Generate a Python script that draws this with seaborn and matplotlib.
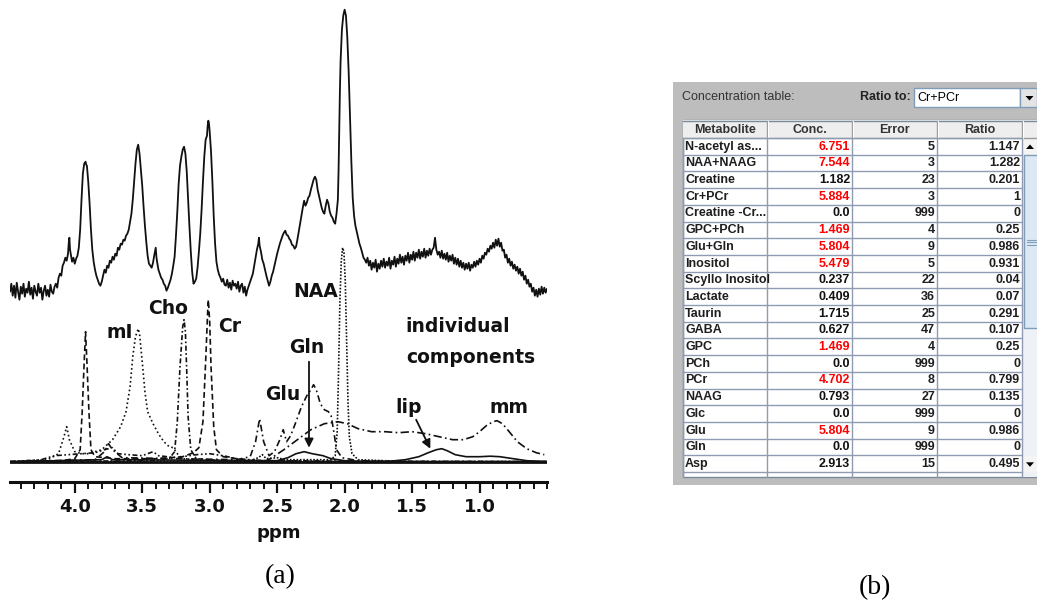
import matplotlib
matplotlib.use("Agg")
import matplotlib.pyplot as plt
import seaborn as sns
from matplotlib.patches import Rectangle, Polygon
from matplotlib.ticker import MultipleLocator

sns.set_theme(style="white")
plt.rcParams["font.family"] = ["DejaVu Sans"]

# ---------------------------------------------------------------
# (a) in-vivo spectrum (ppm, intensity in a.u.)
# ---------------------------------------------------------------
spectrum = [
    (4.48, 170), (4.47, 178), (4.46, 166), (4.45, 176), (4.44, 164), (4.43, 179), (4.42, 170),
    (4.41, 162), (4.40, 175), (4.39, 168), (4.38, 178), (4.37, 165), (4.36, 173), (4.35, 169),
    (4.34, 180), (4.33, 167), (4.32, 174), (4.31, 163), (4.30, 176), (4.29, 170), (4.28, 166),
    (4.27, 178), (4.26, 169), (4.25, 174), (4.24, 162), (4.23, 171), (4.22, 176), (4.21, 166),
    (4.20, 172), (4.19, 165), (4.18, 177), (4.17, 170), (4.16, 168), (4.15, 175), (4.14, 178),
    (4.13, 174), (4.12, 184), (4.11, 188), (4.10, 186), (4.09, 196), (4.08, 199), (4.07, 204),
    (4.06, 201), (4.05, 208), (4.045, 218), (4.04, 224), (4.035, 212), (4.03, 208), (4.02, 200),
    (4.01, 204), (4.00, 198), (3.99, 203), (3.98, 206), (3.97, 214), (3.96, 232), (3.95, 262),
    (3.94, 288), (3.93, 298), (3.92, 300), (3.915, 297), (3.91, 296), (3.90, 280), (3.89, 258),
    (3.88, 232), (3.87, 212), (3.86, 200), (3.85, 192), (3.84, 186), (3.83, 182), (3.82, 178),
    (3.81, 176), (3.80, 180), (3.79, 186), (3.78, 192), (3.77, 189), (3.76, 196), (3.75, 194),
    (3.74, 201), (3.73, 199), (3.72, 205), (3.71, 202), (3.70, 208), (3.69, 206), (3.68, 214),
    (3.67, 212), (3.66, 218), (3.65, 217), (3.64, 222), (3.63, 221), (3.62, 226), (3.61, 228),
    (3.60, 232), (3.59, 240), (3.58, 248), (3.57, 262), (3.56, 280), (3.55, 298), (3.54, 312),
    (3.53, 317), (3.52, 308), (3.51, 292), (3.50, 276), (3.49, 255), (3.48, 236), (3.47, 220),
    (3.46, 206), (3.45, 198), (3.44, 196), (3.43, 194), (3.42, 199), (3.41, 207), (3.40, 214),
    (3.395, 205), (3.39, 200), (3.38, 192), (3.37, 188), (3.36, 184), (3.35, 182), (3.34, 178),
    (3.33, 176), (3.32, 171), (3.31, 174), (3.30, 178), (3.29, 182), (3.28, 188), (3.27, 196),
    (3.26, 205), (3.25, 226), (3.24, 250), (3.23, 278), (3.22, 296), (3.21, 305), (3.20, 312),
    (3.19, 315), (3.18, 308), (3.17, 290), (3.16, 262), (3.15, 235), (3.14, 210), (3.13, 190),
    (3.12, 178), (3.11, 180), (3.10, 183), (3.09, 194), (3.08, 210), (3.07, 228), (3.06, 252),
    (3.05, 280), (3.04, 305), (3.03, 322), (3.02, 326), (3.015, 336), (3.01, 341), (3.005, 338),
    (3.00, 330), (2.99, 310), (2.98, 280), (2.97, 245), (2.96, 218), (2.95, 200), (2.94, 192),
    (2.93, 187), (2.92, 184), (2.91, 180), (2.90, 183), (2.89, 177), (2.88, 176), (2.87, 182),
    (2.86, 174), (2.85, 179), (2.84, 172), (2.83, 181), (2.82, 176), (2.81, 178), (2.80, 173),
    (2.79, 180), (2.78, 170), (2.77, 176), (2.76, 178), (2.75, 169), (2.74, 175), (2.73, 166),
    (2.72, 172), (2.71, 176), (2.70, 180), (2.69, 184), (2.68, 188), (2.67, 196), (2.66, 204),
    (2.65, 212), (2.64, 218), (2.635, 224), (2.63, 216), (2.62, 210), (2.61, 202), (2.60, 198),
    (2.59, 192), (2.58, 186), (2.57, 181), (2.56, 176), (2.55, 180), (2.54, 186), (2.53, 190),
    (2.52, 196), (2.51, 202), (2.50, 208), (2.49, 213), (2.48, 218), (2.47, 222), (2.46, 226),
    (2.45, 229), (2.44, 231), (2.43, 227), (2.42, 226), (2.41, 223), (2.40, 221), (2.39, 217),
    (2.38, 216), (2.37, 213), (2.36, 215), (2.35, 222), (2.34, 230), (2.33, 238), (2.32, 246),
    (2.31, 254), (2.30, 261), (2.29, 256), (2.28, 259), (2.27, 264), (2.26, 266), (2.25, 272),
    (2.24, 277), (2.23, 282), (2.22, 285), (2.21, 282), (2.20, 272), (2.19, 266), (2.18, 260),
    (2.17, 254), (2.16, 250), (2.15, 248), (2.14, 256), (2.13, 262), (2.12, 258), (2.11, 250),
    (2.10, 246), (2.09, 244), (2.08, 240), (2.07, 238), (2.06, 248), (2.05, 262), (2.045, 290),
    (2.04, 330), (2.035, 370), (2.03, 400), (2.02, 432), (2.01, 446), (2.00, 452), (1.99, 446),
    (1.98, 424), (1.97, 390), (1.96, 345), (1.95, 300), (1.94, 264), (1.93, 246), (1.92, 236),
    (1.91, 230), (1.90, 224), (1.89, 218), (1.88, 214), (1.87, 209), (1.86, 204), (1.85, 202),
    (1.84, 199), (1.83, 204), (1.82, 196), (1.81, 201), (1.80, 192), (1.79, 199), (1.78, 194),
    (1.77, 202), (1.76, 190), (1.75, 198), (1.74, 193), (1.73, 201), (1.72, 195), (1.71, 203),
    (1.70, 194), (1.69, 200), (1.68, 196), (1.67, 204), (1.66, 193), (1.65, 201), (1.64, 197),
    (1.63, 205), (1.62, 195), (1.61, 203), (1.60, 198), (1.59, 207), (1.58, 199), (1.57, 205),
    (1.56, 197), (1.55, 206), (1.54, 201), (1.53, 209), (1.52, 199), (1.51, 207), (1.50, 202),
    (1.49, 210), (1.48, 201), (1.47, 209), (1.46, 204), (1.45, 212), (1.44, 203), (1.43, 210),
    (1.42, 205), (1.41, 213), (1.40, 204), (1.39, 211), (1.38, 206), (1.37, 213), (1.36, 207),
    (1.35, 212), (1.34, 214), (1.33, 224), (1.32, 212), (1.31, 207), (1.30, 210), (1.29, 204),
    (1.28, 211), (1.27, 203), (1.26, 208), (1.25, 202), (1.24, 209), (1.23, 200), (1.22, 206),
    (1.21, 201), (1.20, 207), (1.19, 198), (1.18, 204), (1.17, 197), (1.16, 203), (1.15, 195),
    (1.14, 201), (1.13, 194), (1.12, 199), (1.11, 192), (1.10, 198), (1.09, 193), (1.08, 199),
    (1.07, 191), (1.06, 197), (1.05, 194), (1.04, 200), (1.03, 195), (1.02, 201), (1.01, 197),
    (1.00, 203), (0.99, 199), (0.98, 206), (0.97, 203), (0.96, 209), (0.95, 207), (0.94, 213),
    (0.93, 210), (0.92, 216), (0.91, 213), (0.90, 219), (0.89, 214), (0.88, 222), (0.87, 216),
    (0.86, 223), (0.85, 215), (0.84, 219), (0.83, 211), (0.82, 212), (0.81, 204), (0.80, 207),
    (0.79, 199), (0.78, 203), (0.77, 196), (0.76, 200), (0.75, 193), (0.74, 197), (0.73, 191),
    (0.72, 195), (0.71, 188), (0.70, 193), (0.69, 186), (0.68, 190), (0.67, 182), (0.66, 186),
    (0.65, 178), (0.64, 182), (0.63, 175), (0.62, 178), (0.61, 170), (0.60, 174), (0.59, 166),
    (0.58, 172), (0.57, 165), (0.56, 173), (0.55, 167), (0.54, 175), (0.53, 168), (0.52, 174),
    (0.51, 169), (0.50, 173),
]

# fitted individual components (ppm, intensity)
comp_cr = [(4.48, 0), (4.10, 1), (4.00, 3), (3.96, 12), (3.945, 50), (3.93, 100), (3.92, 130),
           (3.91, 100), (3.895, 50), (3.88, 12), (3.85, 5), (3.70, 3), (3.40, 3), (3.20, 5),
           (3.12, 9), (3.08, 14), (3.05, 40), (3.03, 100), (3.015, 150), (3.01, 162), (3.00, 140),
           (2.99, 95), (2.97, 35), (2.95, 12), (2.90, 5), (2.70, 1), (2.00, 0), (0.50, 0)]
comp_mi = [(4.48, 0), (4.20, 2), (4.12, 8), (4.08, 25), (4.06, 35), (4.04, 22), (4.00, 10),
           (3.95, 8), (3.90, 8), (3.80, 12), (3.72, 22), (3.66, 35), (3.62, 50), (3.59, 75),
           (3.57, 105), (3.55, 125), (3.53, 133), (3.52, 128), (3.50, 100), (3.48, 70), (3.46, 50),
           (3.42, 38), (3.38, 28), (3.34, 20), (3.30, 15), (3.27, 14), (3.24, 8), (3.20, 3),
           (3.00, 1), (2.00, 0), (0.50, 0)]
comp_cho = [(4.48, 0), (3.40, 1), (3.30, 3), (3.26, 10), (3.24, 40), (3.22, 95), (3.20, 135),
            (3.19, 142), (3.18, 130), (3.17, 90), (3.16, 45), (3.14, 12), (3.10, 3), (2.90, 1),
            (0.50, 0)]
comp_naa = [(4.48, 0), (2.70, 1), (2.64, 4), (2.61, 7), (2.58, 3), (2.50, 4), (2.44, 2),
            (2.10, 2), (2.07, 6), (2.055, 30), (2.045, 90), (2.035, 160), (2.025, 200),
            (2.015, 214), (2.005, 210), (1.995, 180), (1.985, 120), (1.975, 60), (1.965, 25),
            (1.945, 8), (1.90, 2), (1.50, 0), (0.50, 0)]
comp_glu = [(4.48, 0), (3.85, 2), (3.78, 10), (3.75, 18), (3.72, 12), (3.65, 4), (2.80, 2),
            (2.70, 5), (2.66, 20), (2.63, 43), (2.60, 20), (2.56, 6), (2.52, 10), (2.48, 22),
            (2.455, 32), (2.43, 20), (2.40, 26), (2.36, 40), (2.32, 55), (2.28, 66), (2.25, 72),
            (2.23, 77), (2.21, 72), (2.18, 58), (2.15, 52), (2.12, 50), (2.10, 46), (2.08, 30),
            (2.06, 12), (2.02, 4), (1.90, 1), (1.50, 0), (0.50, 0)]
comp_gln = [(4.48, 0), (3.80, 2), (3.76, 5), (3.72, 2), (2.50, 1), (2.42, 4), (2.36, 8),
            (2.30, 10), (2.24, 8), (2.16, 6), (2.10, 3), (2.00, 1), (1.80, 0), (0.50, 0)]
comp_mm = [(2.60, 0), (2.55, 3), (2.45, 12), (2.35, 22), (2.25, 32), (2.15, 38), (2.05, 40),
           (1.98, 38), (1.90, 33), (1.80, 30), (1.70, 30), (1.60, 29), (1.50, 30), (1.40, 28),
           (1.30, 25), (1.20, 22), (1.12, 22), (1.05, 25), (1.00, 30), (0.95, 36), (0.90, 40),
           (0.87, 41), (0.83, 38), (0.78, 30), (0.72, 20), (0.65, 13), (0.58, 9), (0.52, 7)]
comp_lip = [(1.70, 0), (1.55, 2), (1.45, 5), (1.38, 9), (1.32, 12), (1.28, 13), (1.24, 11),
            (1.18, 7), (1.10, 5), (1.00, 5), (0.92, 5.5), (0.85, 5), (0.75, 3), (0.65, 1),
            (0.50, 0)]
comp_minor = [(4.48, 0), (4.25, 2), (4.15, 6), (4.05, 7), (3.95, 8), (3.85, 9), (3.78, 12),
              (3.72, 14), (3.68, 8), (3.60, 7), (3.50, 6), (3.42, 10), (3.38, 6), (3.25, 4),
              (3.10, 7), (3.00, 8), (2.90, 6), (2.80, 3), (2.60, 1), (2.00, 0), (0.50, 0)]

components = [
    (comp_minor, (0, (3, 1.5, 1, 1.5, 1, 1.5))),
    (comp_gln, "-"),
    (comp_lip, "-"),
    (comp_mm, (0, (5, 2, 1, 2))),
    (comp_glu, (0, (4, 2, 1, 2))),
    (comp_cho, (0, (3, 1.5, 1, 1.5))),
    (comp_mi, (0, (1, 1.6))),
    (comp_cr, (0, (3.5, 2))),
    (comp_naa, (0, (1, 1))),
]

# labels: text, ppm, intensity
peak_labels = [("NAA", 2.216, 170), ("Cho", 3.311, 153), ("Cr", 2.854, 135), ("mI", 3.665, 129),
               ("Gln", 2.282, 114), ("Glu", 2.455, 67), ("lip", 1.525, 54), ("mm", 0.78, 54)]
# arrows: (tail ppm, tail intensity) -> (head ppm, head intensity)
arrows = [((2.264, 100), (2.264, 14)), ((1.47, 42), (1.365, 13))]

# ---------------------------------------------------------------
# (b) concentration table
# ---------------------------------------------------------------
metabolites = ["N-acetyl as...", "NAA+NAAG", "Creatine", "Cr+PCr", "Creatine -Cr...",
               "GPC+PCh", "Glu+Gln", "Inositol", "Scyllo Inositol", "Lactate", "Taurin",
               "GABA", "GPC", "PCh", "PCr", "NAAG", "Glc", "Glu", "Gln", "Asp"]
concentrations = [6.751, 7.544, 1.182, 5.884, 0.0, 1.469, 5.804, 5.479, 0.237, 0.409, 1.715,
                  0.627, 1.469, 0.0, 4.702, 0.793, 0.0, 5.804, 0.0, 2.913]
errors = [5, 3, 23, 3, 999, 4, 9, 5, 22, 36, 25, 47, 4, 999, 8, 27, 999, 9, 999, 15]
ratios = [1.147, 1.282, 0.201, 1, 0, 0.25, 0.986, 0.931, 0.04, 0.07, 0.291, 0.107, 0.25, 0,
          0.799, 0.135, 0, 0.986, 0, 0.495]
headers = ["Metabolite", "Conc.", "Error", "Ratio"]
ratio_reference = "Cr+PCr"

# ---------------------------------------------------------------
W, H = 1037, 604
fig = plt.figure(figsize=(W / 100, H / 100), dpi=100)
fig.patch.set_facecolor("white")


def px_box(x0, y0, x1, y1):
    """pixel box (origin top-left) -> figure fraction rect"""
    return [x0 / W, 1 - y1 / H, (x1 - x0) / W, (y1 - y0) / H]


ink = "#111111"
ax = fig.add_axes(px_box(10, 5, 547, 481.7))
ax.set_facecolor("none")

ppm, val = zip(*spectrum)
sns.lineplot(x=list(ppm), y=list(val), ax=ax, color=ink, linewidth=1.3, sort=False,
             estimator=None)
ax.axhline(0, color=ink, linewidth=2.0)
for comp, ls in components:
    cx, cy = zip(*comp)
    sns.lineplot(x=list(cx), y=list(cy), ax=ax, color=ink, linewidth=1.2, linestyle=ls,
                 sort=False, estimator=None)

ax.set_xlim(4.48, 0.50)
ax.set_ylim(-20, 456.7)
for s in ("left", "right", "top"):
    ax.spines[s].set_visible(False)
ax.spines["bottom"].set_linewidth(2.2)
ax.spines["bottom"].set_color(ink)
ax.set_yticks([])
ax.xaxis.set_major_locator(MultipleLocator(0.5))
ax.xaxis.set_minor_locator(MultipleLocator(0.1))
ax.tick_params(axis="x", which="major", direction="out", length=8, width=1.6, color=ink,
               pad=4, labelsize=13, bottom=True)
ax.tick_params(axis="x", which="minor", direction="out", length=5, width=1.4, color=ink,
               bottom=True)
ax.set_xticks([4.0, 3.5, 3.0, 2.5, 2.0, 1.5, 1.0])
ax.set_xticklabels(["4.0", "3.5", "3.0", "2.5", "2.0", "1.5", "1.0"], fontweight="bold",
                   color=ink)
ax.set_xlabel("ppm", fontsize=13, fontweight="bold", color=ink)
ax.xaxis.set_label_coords(0.5, -0.108)
ax.xaxis.label.set_va("center")

for text, x, y in peak_labels:
    ax.text(x, y, text, ha="center", va="center", fontsize=13.5, fontweight="bold",
            color=ink)
ax.text(1.551, 135, "individual", ha="left", va="center", fontsize=13.5,
        fontweight="bold", color=ink)
ax.text(1.545, 104, "components", ha="left", va="center", fontsize=13.5,
        fontweight="bold", color=ink)
for (tx, ty), (hx, hy) in arrows:
    ax.annotate("", xy=(hx, hy), xytext=(tx, ty),
                arrowprops=dict(arrowstyle="-|>", color=ink, lw=1.3, mutation_scale=13,
                                shrinkA=0, shrinkB=0))

fig.text(280 / W, 1 - 577 / H, "(a)", ha="center", va="center", fontsize=20,
         family="Liberation Serif", color="black")
fig.text(875 / W, 1 - 588 / H, "(b)", ha="center", va="center", fontsize=20,
         family="Liberation Serif", color="black")

# ---------------------------------------------------------------
# (b) table widget, drawn in pixel units
axb = fig.add_axes(px_box(673, 82, 1037, 485))
axb.set_xlim(673, 1037)
axb.set_ylim(485, 82)
axb.axis("off")

tfont = dict(family="Liberation Sans", fontsize=9)
grid_c = "#8e9bb0"
axb.add_patch(Rectangle((673, 82), 364, 403, facecolor="#bdbdbd", edgecolor="none"))
axb.text(682, 97, "Concentration table:", ha="left", va="center", color="#333333", **tfont)
axb.text(860, 97, "Ratio to:", ha="left", va="center", color="#222222", fontweight="bold",
         **tfont)
axb.add_patch(Rectangle((914, 88), 106, 19, facecolor="white", edgecolor="#7f9db9", lw=1))
axb.text(917, 98, ratio_reference, ha="left", va="center", color="black", **tfont)
axb.add_patch(Rectangle((1020, 88), 17, 19, facecolor="#e4e4e4", edgecolor="#7f9db9", lw=1))
axb.add_patch(Polygon([(1025.5, 96), (1033.5, 96), (1029.5, 100.5)], closed=True,
                      facecolor="black", edgecolor="none"))

col_edges = [683, 767, 852, 937, 1022]
header_top, header_bot, row_h = 120, 138, 16.7
n_rows = len(metabolites)
table_bot = header_bot + n_rows * row_h + 5

axb.add_patch(Rectangle((683, header_top), 1037 - 683, table_bot - header_top,
                        facecolor="white", edgecolor="#7a8a99", lw=1))
axb.add_patch(Rectangle((683, header_top), 1037 - 683, header_bot - header_top,
                        facecolor="#eeeeee", edgecolor="none"))
axb.plot([683, 1037], [header_top + 0.5, header_top + 0.5], color="#7a8a99", lw=1)
axb.plot([683, 1037], [header_bot, header_bot], color="#9a9a9a", lw=1)
for i, name in enumerate(headers):
    cx = (col_edges[i] + col_edges[i + 1]) / 2
    axb.text(cx, (header_top + header_bot) / 2 + 0.5, name, ha="center", va="center",
             color="#333333", fontweight="bold", **tfont)
for x in col_edges[1:]:
    axb.plot([x, x], [header_top + 1, header_bot], color="#9a9a9a", lw=1)
    axb.plot([x + 1, x + 1], [header_top + 1, header_bot], color="white", lw=0.8)

# rows
for k in range(n_rows + 1):
    y = header_bot + k * row_h
    axb.plot([683, 1022], [y, y], color=grid_c, lw=1)
for x in col_edges:
    axb.plot([x, x], [header_bot, table_bot], color=grid_c, lw=1)

conc_colors = ["#ff0000" if e < 10 else "#111111" for e in errors]
for r in range(n_rows):
    yc = header_bot + (r + 0.5) * row_h + 0.3
    axb.text(col_edges[0] + 2, yc, metabolites[r], ha="left", va="center",
             color="#1e1e1e", fontweight="bold", **tfont)
    axb.text(col_edges[2] - 2, yc, str(concentrations[r]), ha="right", va="center",
             color=conc_colors[r], fontweight="bold", **tfont)
    axb.text(col_edges[3] - 2, yc, str(errors[r]), ha="right", va="center",
             color="#1e1e1e", fontweight="bold", **tfont)
    axb.text(col_edges[4] - 2, yc, f"{ratios[r]:g}", ha="right", va="center",
             color="#1e1e1e", fontweight="bold", **tfont)

# vertical scroll bar
sb_x = 1022.5
axb.add_patch(Rectangle((sb_x, header_bot), 1037 - sb_x, table_bot - header_bot,
                        facecolor="#eef2f7", edgecolor="none"))
axb.add_patch(Rectangle((sb_x, header_bot + 0.5), 15, row_h - 1, facecolor="#f4f4f4",
                        edgecolor="none"))
axb.add_patch(Polygon([(1026, 149), (1034, 149), (1030, 144.5)], closed=True,
                      facecolor="black", edgecolor="none"))
thumb_top, thumb_bot = header_bot + row_h + 0.5, 328
axb.add_patch(Rectangle((1023.5, thumb_top), 14, thumb_bot - thumb_top,
                        facecolor="#dde8f5", edgecolor="#7f9db9", lw=1))
for gy in (239.5, 242, 244.5):
    axb.plot([1027, 1036], [gy, gy], color="#7f9db9", lw=0.8)
down_top = header_bot + (n_rows - 1) * row_h
axb.add_patch(Rectangle((sb_x, down_top + 0.5), 15, row_h - 1, facecolor="#f4f4f4",
                        edgecolor="none"))
axb.add_patch(Polygon([(1026, down_top + 7), (1034, down_top + 7),
                       (1030, down_top + 11.5)], closed=True, facecolor="black",
                      edgecolor="none"))

fig.savefig("out.png", dpi=100, facecolor="white")
